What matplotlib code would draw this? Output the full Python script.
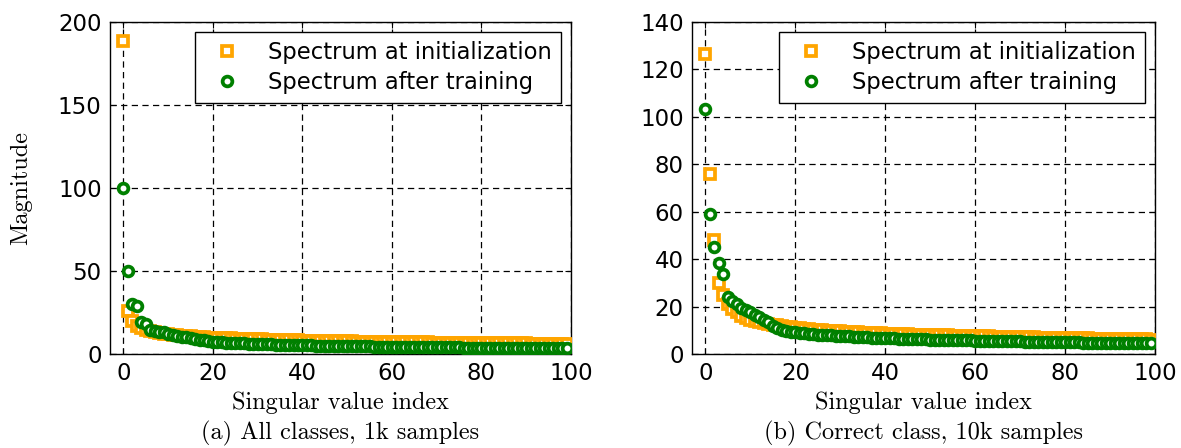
import matplotlib
matplotlib.use("Agg")
import matplotlib.pyplot as plt

idx = list(range(100))

init_a = [188, 26, 20, 17, 15.5, 14.5, 13.8, 13.2, 12.7, 12.3,
          12.0, 11.7, 11.4, 11.1, 10.9, 10.7, 10.5, 10.3, 10.1, 9.9,
          9.8, 9.7, 9.6, 9.5, 9.4, 9.3, 9.2, 9.1, 9.0, 8.9,
          8.8, 8.8, 8.7, 8.6, 8.5, 8.5, 8.4, 8.3, 8.3, 8.2,
          8.1, 8.1, 8.0, 8.0, 7.9, 7.9, 7.8, 7.8, 7.7, 7.7,
          7.6, 7.6, 7.5, 7.5, 7.5, 7.4, 7.4, 7.3, 7.3, 7.3,
          7.2, 7.2, 7.2, 7.1, 7.1, 7.1, 7.0, 7.0, 7.0, 6.9,
          6.9, 6.9, 6.8, 6.8, 6.8, 6.8, 6.7, 6.7, 6.7, 6.6,
          6.6, 6.6, 6.6, 6.5, 6.5, 6.5, 6.5, 6.4, 6.4, 6.4,
          6.4, 6.3, 6.3, 6.3, 6.3, 6.2, 6.2, 6.2, 6.2, 6.1]

trained_a = [100, 50, 30, 29, 19, 18, 14.5, 14, 13.5, 13,
             12, 11.5, 11, 10.5, 10, 9.5, 9, 8.5, 8.2, 7.8,
             7.5, 7.3, 7.1, 6.9, 6.7, 6.6, 6.5, 6.4, 6.3, 6.2,
             6.1, 6.0, 5.9, 5.8, 5.7, 5.6, 5.6, 5.5, 5.4, 5.4,
             5.3, 5.2, 5.2, 5.1, 5.1, 5.0, 5.0, 4.9, 4.9, 4.8,
             4.8, 4.7, 4.7, 4.7, 4.6, 4.6, 4.5, 4.5, 4.5, 4.4,
             4.4, 4.4, 4.3, 4.3, 4.3, 4.2, 4.2, 4.2, 4.2, 4.1,
             4.1, 4.1, 4.0, 4.0, 4.0, 4.0, 3.9, 3.9, 3.9, 3.9,
             3.8, 3.8, 3.8, 3.8, 3.7, 3.7, 3.7, 3.7, 3.6, 3.6,
             3.6, 3.6, 3.6, 3.5, 3.5, 3.5, 3.5, 3.4, 3.4, 3.4]

init_b = [126.5, 76, 48, 30, 25, 21, 19, 17.5, 16, 15,
          14.5, 14, 13.5, 13, 12.7, 12.4, 12.1, 11.8, 11.5, 11.2,
          11.0, 10.8, 10.6, 10.4, 10.2, 10.0, 9.9, 9.8, 9.7, 9.6,
          9.5, 9.4, 9.3, 9.2, 9.1, 9.0, 8.9, 8.8, 8.8, 8.7,
          8.6, 8.5, 8.5, 8.4, 8.3, 8.3, 8.2, 8.1, 8.1, 8.0,
          8.0, 7.9, 7.9, 7.8, 7.8, 7.7, 7.7, 7.6, 7.6, 7.5,
          7.5, 7.4, 7.4, 7.4, 7.3, 7.3, 7.2, 7.2, 7.2, 7.1,
          7.1, 7.0, 7.0, 7.0, 6.9, 6.9, 6.9, 6.8, 6.8, 6.8,
          6.7, 6.7, 6.7, 6.6, 6.6, 6.6, 6.5, 6.5, 6.5, 6.4,
          6.4, 6.4, 6.4, 6.3, 6.3, 6.3, 6.2, 6.2, 6.2, 6.1]

trained_b = [103, 59, 45, 38.5, 33.5, 24, 22.5, 21, 19.5, 18.5,
             17.5, 16.5, 15.5, 14.5, 13.5, 12, 11, 10.3, 9.8, 9.4,
             9.1, 8.9, 8.7, 8.5, 8.3, 8.1, 8.0, 7.9, 7.8, 7.7,
             7.6, 7.5, 7.4, 7.3, 7.2, 7.1, 7.0, 6.9, 6.9, 6.8,
             6.7, 6.6, 6.6, 6.5, 6.4, 6.4, 6.3, 6.3, 6.2, 6.2,
             6.1, 6.1, 6.0, 6.0, 5.9, 5.9, 5.8, 5.8, 5.7, 5.7,
             5.6, 5.6, 5.6, 5.5, 5.5, 5.4, 5.4, 5.4, 5.3, 5.3,
             5.3, 5.2, 5.2, 5.2, 5.1, 5.1, 5.1, 5.0, 5.0, 5.0,
             4.9, 4.9, 4.9, 4.9, 4.8, 4.8, 4.8, 4.8, 4.7, 4.7,
             4.7, 4.7, 4.6, 4.6, 4.6, 4.6, 4.5, 4.5, 4.5, 4.5]

labels = ["Spectrum at initialization", "Spectrum after training"]
xlabel = "Singular value index"
ylabel = "Magnitude"
captions = ["(a) All classes, 1k samples", "(b) Correct class, 10k samples"]
yticks_a = [0, 50, 100, 150, 200]
yticks_b = [0, 20, 40, 60, 80, 100, 120, 140]
xticks = [0, 20, 40, 60, 80, 100]

W, H = 1181, 448
fig = plt.figure(figsize=(W/100, H/100), dpi=100)
top_px, bot_px = 21.5, 354
ax1 = fig.add_axes([110/W, 1-bot_px/H, (571-110)/W, (bot_px-top_px)/H])
ax2 = fig.add_axes([692/W, 1-bot_px/H, (1155-692)/W, (bot_px-top_px)/H])
ah = bot_px - top_px

serif = 'cmr10'
for ax, ini, tr, yt, cap in [(ax1, init_a, trained_a, yticks_a, captions[0]),
                             (ax2, init_b, trained_b, yticks_b, captions[1])]:
    ax.plot(idx, ini, linestyle='none', marker='s', markersize=6.8,
            markeredgewidth=2.7, markeredgecolor='#FFA500',
            markerfacecolor='white', label=labels[0], zorder=3)
    ax.plot(idx, tr, linestyle='none', marker='o', markersize=7.0,
            markeredgewidth=2.7, markeredgecolor='#008000',
            markerfacecolor='white', label=labels[1], zorder=4)
    ax.set_xlim(-3, 100)
    ax.set_ylim(yt[0], yt[-1])
    ax.set_xticks(xticks)
    ax.set_yticks(yt)
    ax.grid(True, color='black', linestyle=(0, (5, 3.5)), linewidth=0.9)
    ax.set_axisbelow(True)
    ax.tick_params(direction='in', top=True, right=True, length=4,
                   labelsize=16.5, pad=6)
    for s in ax.spines.values():
        s.set_linewidth(1.0)
    ax.set_xlabel(xlabel, fontsize=17.5, family=serif, va='baseline')
    ax.xaxis.set_label_coords(0.5, (bot_px - 409.5) / ah)
    ax.text(0.5, (bot_px - 439.5) / ah, cap, transform=ax.transAxes,
            ha='center', va='baseline', fontsize=17.5, family=serif)
    leg = ax.legend(loc='upper right', numpoints=1, fontsize=16.3,
                    fancybox=False, framealpha=1, edgecolor='black',
                    borderaxespad=0.46, handlelength=2.0, handletextpad=0.8,
                    labelspacing=0.3, borderpad=0.4)
    leg.get_frame().set_linewidth(1.0)

ax1.set_ylabel(ylabel, fontsize=17.5, family=serif, va='baseline')
ax1.yaxis.set_label_coords((27 - 110) / (571 - 110), 0.5)

fig.savefig("out.png", dpi=100)
